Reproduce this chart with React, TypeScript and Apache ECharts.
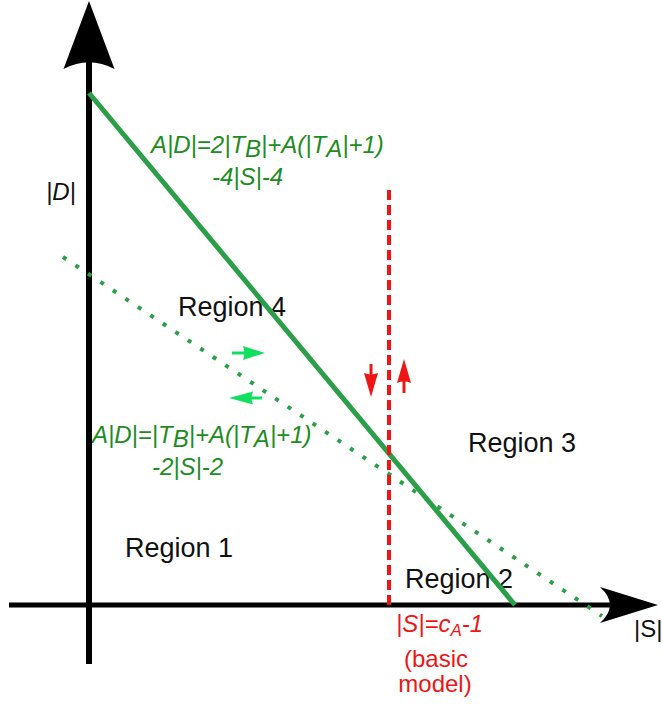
import React, { useEffect, useRef } from 'react';
import * as echarts from 'echarts';

// Coordinate frame: |S| horizontal, |D| vertical (arbitrary units)
const xRange = [-8.9, 57.3];
const yRange = [-9.9, 60.5];

// axes
const yAxisLine = [[0, -5.9], [0, 54.5]];
const xAxisLine = [[-8.0, 0], [52.1, 0]];
const yAxisHead = [0, 57.0];
const xAxisHead = [54.0, 0];

// boundaries
const solidBoundary = [[0, 51.2], [42.6, 0]]; // A|D| = 2|TB| + A(|TA|+1) - 4|S| - 4
const dottedBoundary = [[-2.6, 34.8], [51.3, -1.1]]; // A|D| = |TB| + A(|TA|+1) - 2|S| - 2
const basicModelLine = [[30.0, 0], [30.0, 41.5]]; // |S| = cA - 1

// small direction arrows
const redDownStem = [[28.2, 24.1], [28.2, 22.5]];
const redDownHead = [28.2, 22.0];
const redUpStem = [[31.5, 21.2], [31.5, 22.7]];
const redUpHead = [31.5, 23.4];
const greenRightStem = [[14.3, 25.2], [16.1, 25.2]];
const greenRightHead = [16.5, 25.2];
const greenLeftStem = [[17.3, 20.7], [15.8, 20.7]];
const greenLeftHead = [15.2, 20.7];

const FONT = '"Liberation Sans", Arial, Helvetica, sans-serif';
const GREEN_LINE = '#2b9e48';
const GREEN_TEXT = '#1f8c1f';
const RED = '#f01515';
const BRIGHT_GREEN = '#10e060';

const AX_UP = 'path://M50,0 L100,100 Q50,80 0,100 Z';
const AX_RIGHT = 'path://M100,50 L0,0 Q34,50 0,100 Z';
const UP = 'path://M50,0 L100,100 Q50,88 0,100 Z';
const DOWN = 'path://M50,100 L100,0 Q50,12 0,0 Z';
const RIGHT = 'path://M100,50 L0,0 Q12,50 0,100 Z';
const LEFT = 'path://M0,50 L100,0 Q88,50 100,100 Z';

function seg(data: number[][], color: string, width: number, type: any = 'solid', z = 3) {
  return {
    type: 'line',
    data,
    symbol: 'none',
    silent: true,
    z,
    lineStyle: { color, width, type, cap: 'butt' },
  };
}

function head(pos: number[], symbol: string, size: number[], color: string, z = 4) {
  return {
    type: 'scatter',
    data: [pos],
    symbol,
    symbolSize: size,
    silent: true,
    z,
    itemStyle: { color, opacity: 1 },
  };
}

function txt(x: number, y: number, text: string, o: any = {}) {
  const fontSize = o.fontSize || 24;
  const fontStyle = o.italic ? 'italic' : 'normal';
  const fill = o.fill || '#111';
  const align = o.align || 'left';
  return {
    type: 'text',
    x,
    y,
    z: 0,
    silent: true,
    style: {
      text,
      fontSize,
      fontFamily: FONT,
      fontStyle,
      fill,
      align,
      textAlign: align,
      verticalAlign: 'middle',
      textVerticalAlign: 'middle',
      rich: o.rich,
    },
  };
}

function subStyle(fill: string, fontSize: number, drop: number) {
  return {
    fontSize,
    fontFamily: FONT,
    fontStyle: 'italic',
    fill,
    padding: [drop, 0, 0, 0],
  };
}

export default function App() {
  const ref = useRef<HTMLDivElement>(null);
  useEffect(() => {
    const chart = echarts.init(ref.current!, null, { renderer: 'svg' });
    const greenRich = { b: subStyle(GREEN_TEXT, 24, 9) };
    const redRich = { a: subStyle(RED, 17, 14) };
    chart.setOption({
      animation: false,
      backgroundColor: '#ffffff',
      grid: { left: 0, right: 0, top: 0, bottom: 0 },
      xAxis: { type: 'value', min: xRange[0], max: xRange[1], show: false },
      yAxis: { type: 'value', min: yRange[0], max: yRange[1], show: false },
      series: [
        seg(yAxisLine, '#000', 6, 'solid', 3),
        seg(xAxisLine, '#000', 5, 'solid', 3),
        head(yAxisHead, AX_UP, [51, 68], '#000'),
        head(xAxisHead, AX_RIGHT, [58, 36], '#000'),
        seg(solidBoundary, GREEN_LINE, 5, 'solid', 4),
        seg(dottedBoundary, GREEN_LINE, 4, [4, 11], 4),
        seg(basicModelLine, RED, 4, [10, 5], 4),
        seg(redDownStem, RED, 3, 'solid', 5),
        head(redDownHead, DOWN, [14, 24], RED, 5),
        seg(redUpStem, RED, 3, 'solid', 5),
        head(redUpHead, UP, [14, 24], RED, 5),
        seg(greenRightStem, BRIGHT_GREEN, 3, 'solid', 5),
        head(greenRightHead, RIGHT, [22, 14], BRIGHT_GREEN, 5),
        seg(greenLeftStem, BRIGHT_GREEN, 3, 'solid', 5),
        head(greenLeftHead, LEFT, [24, 13], BRIGHT_GREEN, 5),
      ],
      graphic: {
        elements: [
          txt(151, 144, 'A|D|=2|T{b|B}|+A(|T{b|A}|+1)', { italic: true, fill: GREEN_TEXT, rich: greenRich }),
          txt(212, 176, '-4|S|-4', { italic: true, fill: GREEN_TEXT }),
          txt(92, 434, 'A|D|=|T{b|B}|+A(|T{b|A}|+1)', { italic: true, fill: GREEN_TEXT, rich: greenRich }),
          txt(152, 466, '-2|S|-2', { italic: true, fill: GREEN_TEXT }),
          txt(46, 191, '|D|', { italic: true }),
          txt(634, 628, '|S|'),
          txt(178, 307, 'Region 4', { fontSize: 27 }),
          txt(468, 443, 'Region 3', { fontSize: 27 }),
          txt(125, 548, 'Region 1', { fontSize: 27 }),
          txt(405, 579, 'Region 2', { fontSize: 27 }),
          txt(396, 623, '|S|=c{a|A}-1', { italic: true, fill: RED, rich: redRich }),
          txt(436, 658, '(basic', { fill: RED, align: 'center' }),
          txt(435, 683, 'model)', { fill: RED, align: 'center' }),
        ],
      },
    });
    return () => chart.dispose();
  }, []);
  return (
    <div
      ref={ref}
      style={{ position: 'fixed', left: 0, top: 0, width: 662, height: 704, background: '#fff' }}
    />
  );
}
